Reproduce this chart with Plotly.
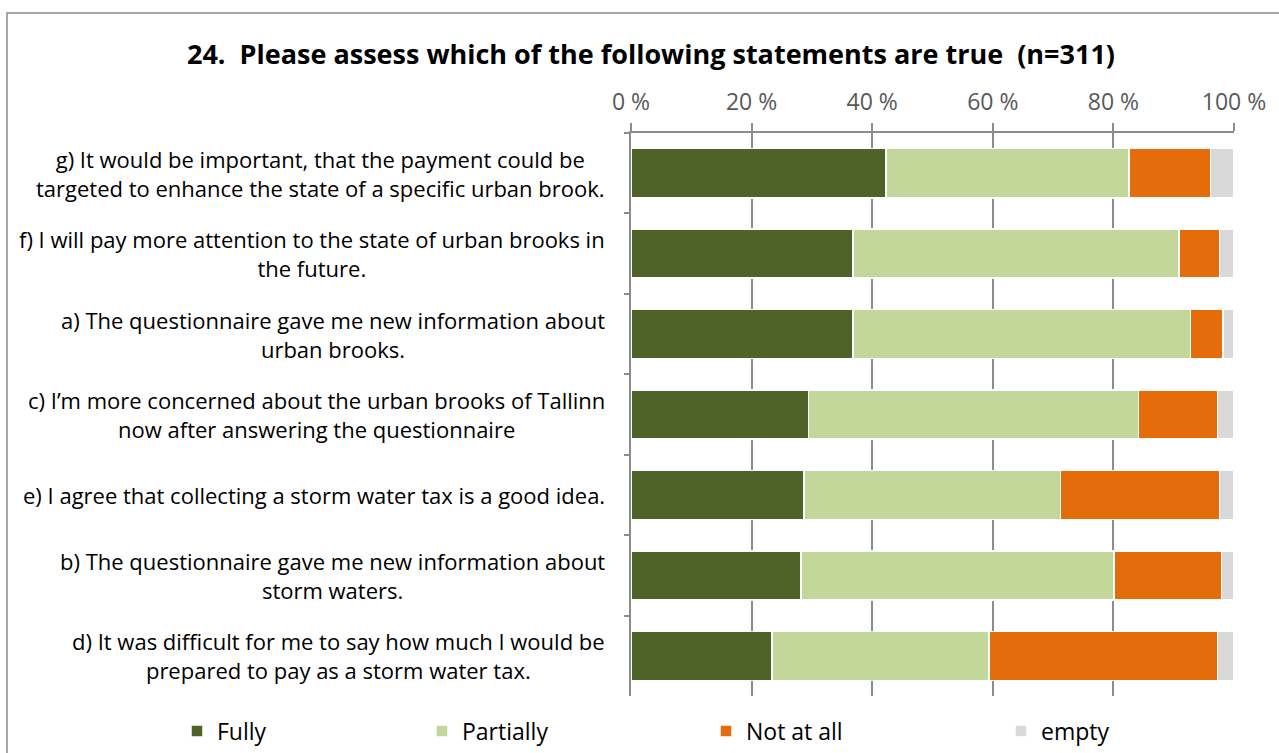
import plotly.graph_objects as go

# Survey question 24 (n=311): share of answers per statement, in percent
statements = [
    "g) It would be important, that the payment could be<br>targeted to enhance the state of a specific urban brook.",
    "f) I will pay more attention to the state of urban brooks in<br>the future.",
    "a) The questionnaire gave me new information about<br>urban brooks.",
    "c) I\u2019m more concerned about the urban brooks of Tallinn<br>now after answering the questionnaire",
    "e) I agree that collecting a storm water tax is a good idea.",
    "b) The questionnaire gave me new information about<br>storm waters.",
    "d) It was difficult for me to say how much I would be<br>prepared to pay as a storm water tax.",
]
keys = ["g", "f", "a", "c", "e", "b", "d"]

fully = [42.3, 36.8, 36.8, 29.4, 28.7, 28.2, 23.4]
partially = [40.3, 54.1, 56.0, 54.8, 42.5, 51.9, 36.0]
not_at_all = [13.5, 6.7, 5.4, 13.1, 26.4, 17.8, 37.9]
empty = [3.9, 2.4, 1.8, 2.7, 2.4, 2.1, 2.7]

series = [
    ("Fully", fully, "#4F6228"),
    ("Partially", partially, "#C4D79B"),
    ("Not at all", not_at_all, "#E46C0A"),
    ("empty", empty, "#D9D9D9"),
]
tick_vals = [0, 20, 40, 60, 80, 100]

FONT = "Open Sans, Calibri, sans-serif"
W, H = 1279, 753
ML, MR, MT, MB = 631, 45, 133, 57

fig = go.Figure()
legend_names = ["legend", "legend2", "legend3", "legend4"]
legend_sym_x = [201, 446, 730, 1025]
for (name, vals, color), lg in zip(series, legend_names):
    fig.add_trace(go.Bar(
        name=name, y=keys, x=vals, orientation="h",
        marker=dict(color=color, line=dict(color="white", width=1.5)),
        width=0.61, legend=lg, hoverinfo="x+name",
    ))

legend_common = dict(
    orientation="h", xref="container", yref="container",
    yanchor="middle", xanchor="left", y=1 - 731 / H,
    font=dict(family=FONT, size=23, color="#000000"),
    bgcolor="rgba(0,0,0,0)", itemwidth=30, tracegroupgap=0,
)
legend_layout = {}
for lg, sx in zip(legend_names, legend_sym_x):
    legend_layout[lg] = dict(legend_common, x=(sx - 24) / W)

# statement labels, right-aligned block with centered lines
for key, text in zip(keys, statements):
    fig.add_annotation(
        x=0, y=key, xref="paper", yref="y", text=text,
        xanchor="right", yanchor="middle", align="center", xshift=-24,
        showarrow=False, font=dict(family=FONT, size=22, color="#000000"),
    )

fig.update_layout(
    width=W, height=H,
    barmode="stack", bargap=0.39,
    plot_bgcolor="white", paper_bgcolor="white",
    margin=dict(l=ML, r=MR, t=MT, b=MB),
    showlegend=True,
    title=dict(
        text="<b>24.  Please assess which of the following statements are true  (n=311)</b>",
        x=651 / W, xanchor="center", xref="container", y=1 - 55 / H, yanchor="middle",
        yref="container",
        font=dict(family=FONT, size=27, color="#000000"),
    ),
    xaxis=dict(
        side="top", range=[0, 100], tickvals=tick_vals,
        ticktext=[f"{v} %" for v in tick_vals],
        showgrid=True, gridcolor="#8C8C8C", gridwidth=1.5,
        showline=True, linecolor="#8C8C8C", linewidth=1.5,
        ticks="outside", ticklen=8, tickcolor="#8C8C8C", tickwidth=1.5,
        ticklabelstandoff=4,
        tickfont=dict(family=FONT, size=23, color="#595959"),
        zeroline=False, fixedrange=True,
    ),
    yaxis=dict(
        categoryorder="array", categoryarray=keys, autorange="reversed",
        showticklabels=False, showline=True, linecolor="#8C8C8C", linewidth=1.5,
        ticks="outside", ticklen=5, tickcolor="#8C8C8C", tickwidth=1.5,
        tickson="boundaries", showgrid=False, fixedrange=True,
    ),
    shapes=[dict(
        type="rect", xref="paper", yref="paper",
        x0=(7 - ML) / (W - ML - MR), x1=(W + 10 - ML) / (W - ML - MR),
        y0=-1, y1=1 + (MT - 13) / (H - MT - MB),
        line=dict(color="#8C8C8C", width=1.5), fillcolor="rgba(0,0,0,0)", layer="below",
    )],
    **legend_layout,
)

fig.write_html("out.html")
